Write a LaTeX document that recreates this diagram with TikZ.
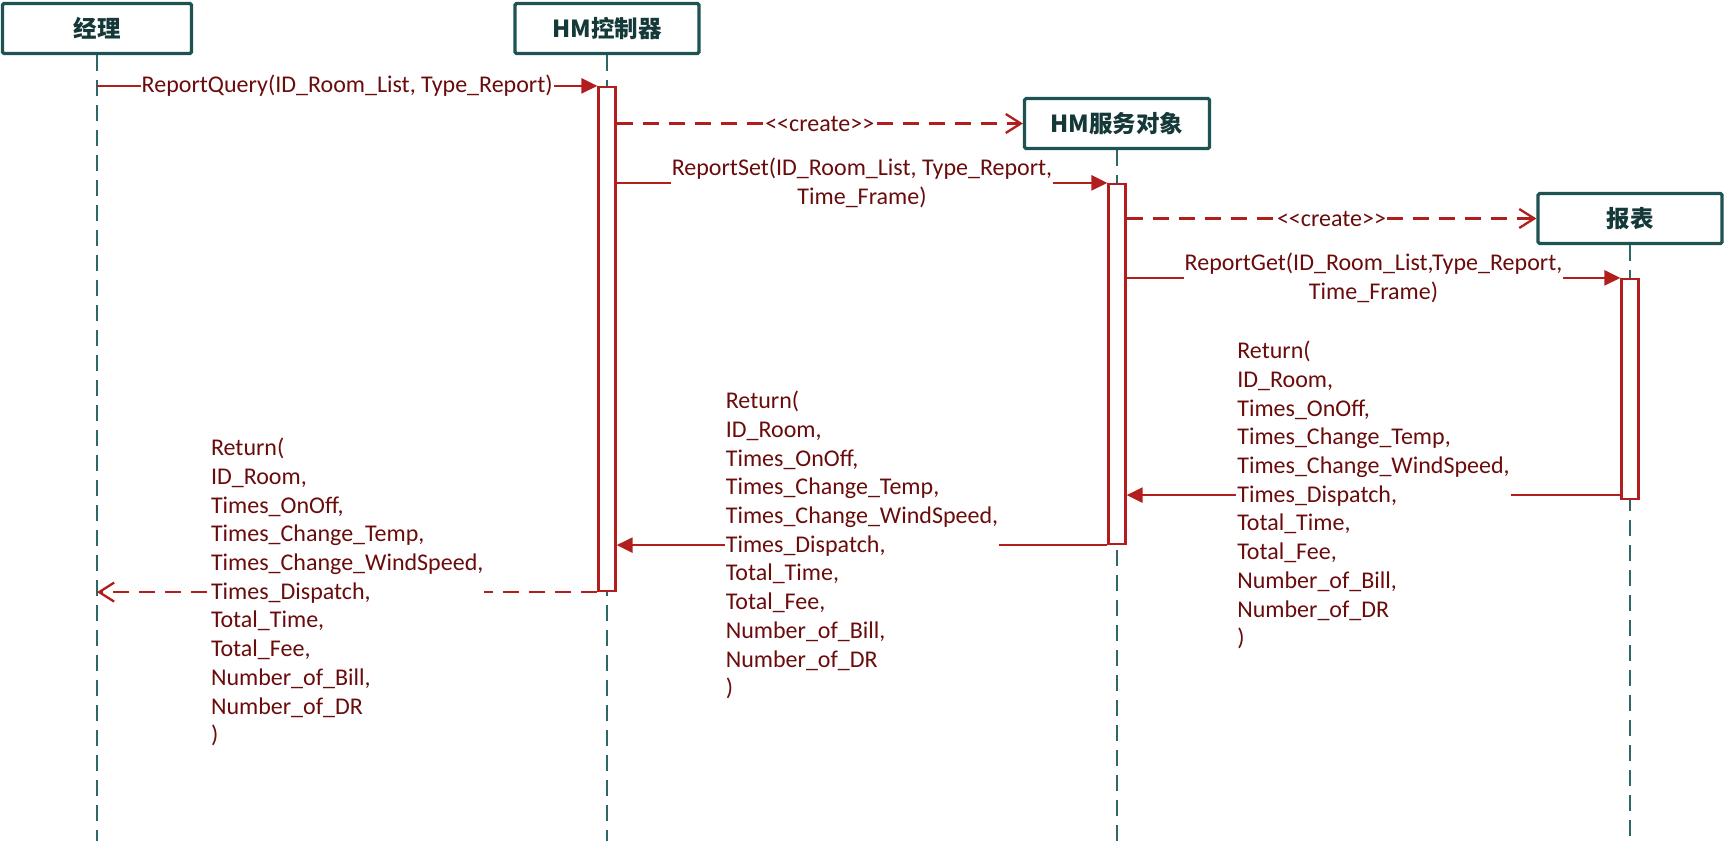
\documentclass[tikz,border=0pt]{standalone}
\usepackage{fontspec}
\setmainfont{Carlito}
\newfontfamily\cjk{Noto Sans CJK SC}
\usetikzlibrary{arrows.meta}
\definecolor{boxc}{HTML}{1F5252}
\definecolor{lifec}{HTML}{2E6767}
\definecolor{msgc}{HTML}{B21E1E}
\definecolor{txtc}{HTML}{6A0C0C}
\definecolor{headc}{HTML}{153838}
\begin{document}
\begin{tikzpicture}[x=1pt,y=-1pt,
  obj/.style={draw=boxc, line width=3.2pt, fill=white, rounded corners=1.5pt, inner sep=0pt,
    minimum height=50pt, font=\cjk\bfseries\fontsize{23.5}{28}\selectfont, text=headc},
  life/.style={draw=lifec, line width=1.7pt, dash pattern=on 16pt off 9pt},
  act/.style={draw=msgc, line width=2.2pt, fill=white, minimum width=17pt, inner sep=0pt},
  msg/.style={draw=msgc, line width=2.3pt, -{Triangle[length=16pt,width=15pt]}},
  ret/.style={draw=msgc, line width=2.3pt, dash pattern=on 16pt off 10pt, -{Straight Barb[length=15pt,width=19pt]}},
  lbl/.style={fill=white, text=txtc, inner xsep=1pt, inner ysep=0pt, font=\fontsize{24}{28.7}\selectfont},
]
\useasboundingbox (0,0) rectangle (1726,841);
% objects
\node[obj, minimum width=189pt] (mgr) at (97,28.5) {经理};
\node[obj, minimum width=184pt] (ctl) at (607,28.5) {HM控制器};
\node[obj, minimum width=185pt] (svc) at (1117,123.5) {HM服务对象};
\node[obj, minimum width=184pt] (rpt) at (1630,218.5) {报表};
% lifelines
\coordinate (mgrE) at (mgr |- 0,841);
\coordinate (ctlE) at (ctl |- 0,841);
\coordinate (svcE) at (svc |- 0,841);
\coordinate (rptE) at (rpt |- 0,841);
\draw[life] (mgr.south) -- (mgrE);
\draw[life] (ctl.south) -- (ctlE);
\draw[life] (svc.south) -- (svcE);
\draw[life] (rpt.south) -- (rptE);
% activations
\node[act, minimum height=504pt] (a1) at (607,339) {};
\node[act, minimum height=360pt] (a2) at (1117,364) {};
\node[act, minimum height=220pt] (a3) at (1630,389) {};
% messages
\draw[msg] (mgr |- a1.north) -- node[lbl]{ReportQuery(ID\_Room\_List, Type\_Report)} (a1.north west);
\draw[ret] (a1.east |- svc.west) -- node[lbl]{<\kern0pt<create>\kern0pt>} (svc.west);
\draw[msg] (a1.east |- a2.north) -- node[lbl, align=center]{ReportSet(ID\_Room\_List, Type\_Report,\\Time\_Frame)} (a2.north west);
\draw[ret] (a2.east |- rpt.west) -- node[lbl]{<\kern0pt<create>\kern0pt>} (rpt.west);
\draw[msg] (a2.east |- a3.north) -- node[lbl, align=center]{ReportGet(ID\_Room\_List,Type\_Report,\\Time\_Frame)} (a3.north west);
\coordinate (r1s) at ([yshift=5pt]a3.south west);
\coordinate (r1e) at (r1s -| a2.east);
\draw[msg] (r1s) -- node[lbl, align=left]{Return(\\ID\_Room,\\Times\_OnOff,\\Times\_Change\_Temp,\\Times\_Change\_WindSpeed,\\Times\_Dispatch,\\Total\_Time,\\Total\_Fee,\\Number\_of\_Bill,\\Number\_of\_DR\\)} (r1e);
\coordinate (r2e) at (a2.south west -| a1.east);
\draw[msg] (a2.south west) -- node[lbl, align=left]{Return(\\ID\_Room,\\Times\_OnOff,\\Times\_Change\_Temp,\\Times\_Change\_WindSpeed,\\Times\_Dispatch,\\Total\_Time,\\Total\_Fee,\\Number\_of\_Bill,\\Number\_of\_DR\\)} (r2e);
\coordinate (r3e) at (a1.south west -| mgr);
\draw[ret] (a1.south west) -- node[lbl, align=left]{Return(\\ID\_Room,\\Times\_OnOff,\\Times\_Change\_Temp,\\Times\_Change\_WindSpeed,\\Times\_Dispatch,\\Total\_Time,\\Total\_Fee,\\Number\_of\_Bill,\\Number\_of\_DR\\)} (r3e);
\end{tikzpicture}
\end{document}
